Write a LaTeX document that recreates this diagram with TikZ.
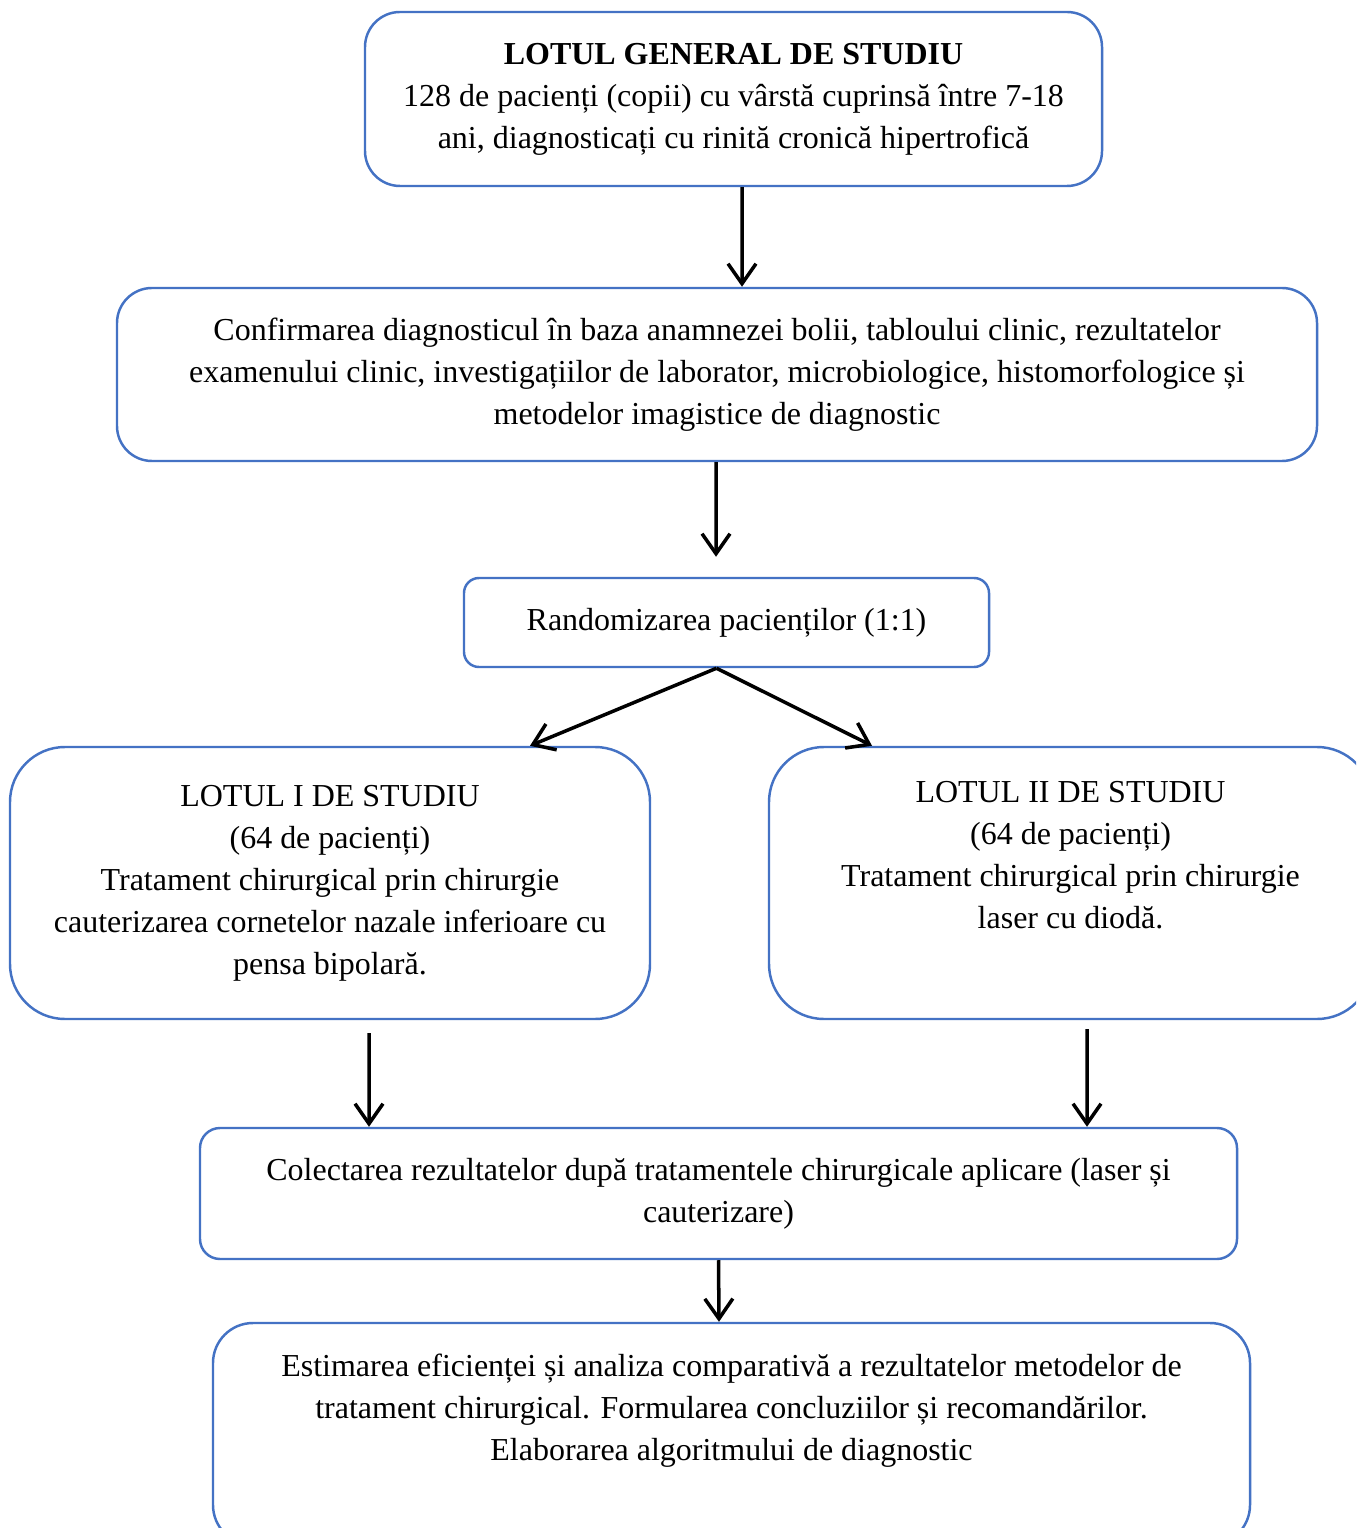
\documentclass[tikz,border=0pt]{standalone}
\usepackage{fontspec}
\setmainfont{Liberation Serif}
\usetikzlibrary{arrows.meta}
\definecolor{boxblue}{HTML}{4472C4}
\tikzset{
  box/.style={draw=boxblue, line width=0.7pt, fill=white, align=center,
    font=\fontsize{9.1}{11.95}\selectfont, inner sep=0pt},
  flow/.style={line width=1pt, -{Straight Barb[length=2mm,width=2.8mm,line width=1pt]}}
}
\begin{document}
\begin{tikzpicture}
\clip (0,0) rectangle (13.56,-15.28);
\fill[white] (0,0) rectangle (13.56,-15.28);

\node[box, rounded corners=0.35cm, minimum width=7.37cm, minimum height=1.74cm] (top) at (7.335,-0.99)
  {\textbf{LOTUL GENERAL DE STUDIU}\\128 de pacienți (copii) cu vârstă cuprinsă între 7-18\\ani, diagnosticați cu rinită cronică hipertrofică};
\node[box, rounded corners=0.35cm, minimum width=12cm, minimum height=1.73cm] (conf) at (7.17,-3.745)
  {Confirmarea diagnosticul în baza anamnezei bolii, tabloului clinic, rezultatelor\\examenului clinic, investigațiilor de laborator, microbiologice, histomorfologice și\\metodelor imagistice de diagnostic};
\node[box, rounded corners=0.15cm, minimum width=5.25cm, minimum height=0.89cm] (rand) at (7.265,-6.225)
  {Randomizarea pacienților (1:1)};
\node[box, rounded corners=0.55cm, minimum width=6.4cm, minimum height=2.72cm] (lot1) at (3.30,-8.83)
  {LOTUL I DE STUDIU\\(64 de pacienți)\\Tratament chirurgical prin chirurgie\\cauterizarea cornetelor nazale inferioare cu\\pensa bipolară.};
\node[box, rounded corners=0.55cm, minimum width=6.03cm, minimum height=2.72cm] (lot2) at (10.705,-8.83)
  {LOTUL II DE STUDIU\\(64 de pacienți)\\Tratament chirurgical prin chirurgie\\laser cu diodă.\\[0.14cm]};
\node[box, rounded corners=0.2cm, minimum width=10.37cm, minimum height=1.31cm] (coll) at (7.185,-11.935)
  {Colectarea rezultatelor după tratamentele chirurgicale aplicare (laser și\\cauterizare)};
\node[box, rounded corners=0.4cm, minimum width=10.37cm, minimum height=2.22cm] (final) at (7.315,-14.34)
  {Estimarea eficienței și analiza comparativă a rezultatelor metodelor de\\tratament chirurgical. Formularea concluziilor și recomandărilor.\\Elaborarea algoritmului de diagnostic\\[0.12cm]};

\draw[flow] ([xshift=0.85mm]top.south) -- ([xshift=2.5mm]conf.north);
\draw[flow, shorten >=2mm] ([xshift=-0.1mm]conf.south) -- ([xshift=-1.05mm]rand.north);
\draw[flow] ([xshift=-1mm]rand.south) -- ([xshift=20mm]lot1.north);
\draw[flow] ([xshift=-1mm]rand.south) -- ([xshift=-19.85mm]lot2.north);
\draw[flow, shorten <=1.3mm] ([xshift=3.9mm]lot1.south) -- ([xshift=-34.95mm]coll.north);
\draw[flow, shorten <=0.9mm] ([xshift=1.65mm]lot2.south) -- ([xshift=36.85mm]coll.north);
\draw[flow] (coll.south) -- ([xshift=-1.25mm]final.north);
\end{tikzpicture}
\end{document}
